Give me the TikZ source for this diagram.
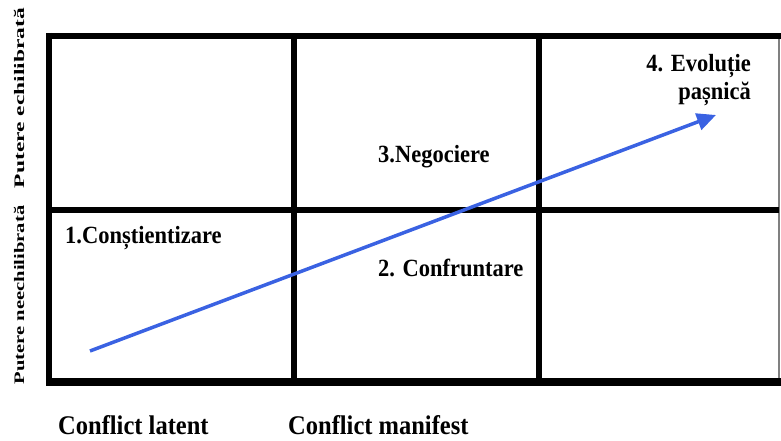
\documentclass[tikz,border=0pt]{standalone}
\usepackage{fontspec}
\setmainfont{Liberation Serif}
\usepackage{graphicx}
\usepackage{xcolor}
\usetikzlibrary{positioning}
\usetikzlibrary{arrows.meta}

\definecolor{arrowblue}{RGB}{58,98,226}

\tikzset{
  gridline/.style={black, line width=6pt},
  celltext/.style={inner sep=0pt, font=\bfseries\fontsize{22.5}{28}\selectfont},
  axistext/.style={inner sep=0pt, font=\bfseries\fontsize{24.5}{28}\selectfont},
  sidetext/.style={inner sep=0pt, rotate=90, font=\bfseries\fontsize{14.5}{16}\selectfont}
}

\begin{document}
\begin{tikzpicture}[x=1pt, y=-1pt]

\useasboundingbox (0,0) rectangle (781,441);

%grid lines
{
\draw[gray, line width=1.5pt] (779,36)--(779,382);
\draw[gridline] (46,36)--(781,36);
\draw[black, line width=8pt] (46,382)--(781,382);
\draw[gridline] (49,33)--(49,386);
\draw[gridline] (294,36)--(294,382);
\draw[gridline] (539,36)--(539,382);
\draw[gridline] (49,210)--(779,210);
}

% arrow
\coordinate (start) at (90,351);
\coordinate (tip) at (716,115);
\draw[arrowblue, line width=3.5pt, -{Triangle[length=19pt, width=17pt]}] (start)--(tip);

% nodes
{
\node[celltext, anchor=west] (aware) at (65,238) {\scalebox{1}[1.1]{1.Conștientizare}};
\node[celltext, anchor=west] (confront) at (378,268) {\scalebox{1}[1.1]{2. Confruntare}};
\node[celltext, anchor=west] (negotiate) at (378,157) {\scalebox{1}[1.1]{3.Negociere}};
\node[celltext, anchor=east, align=right] (peace) at (751,80) {\scalebox{1}[1.1]{4. Evoluție}\\\scalebox{1}[1.1]{pașnică}};

\node[axistext, anchor=west] (latent) at (58,425) {\scalebox{1}[1.1]{Conflict latent}};
\node[axistext, anchor=west] (manifest) at (288,425) {\scalebox{1}[1.1]{Conflict manifest}};

\node[sidetext] (unbalanced) at (19,295) {\scalebox{1.42}[1]{Putere neechilibrată}};
\node[sidetext] (balanced) at (19,98) {\scalebox{1.62}[1]{Putere echilibrată}};
}

\end{tikzpicture}
\end{document}
